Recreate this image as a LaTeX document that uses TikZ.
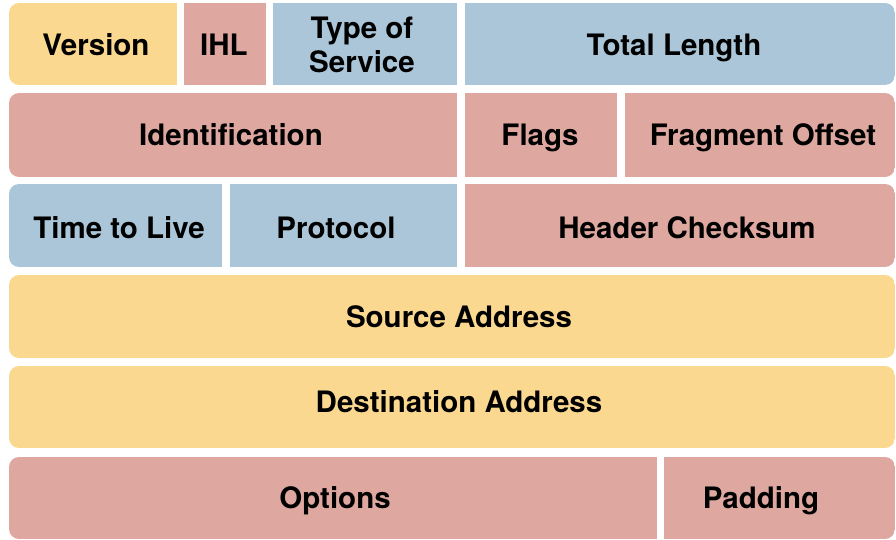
\documentclass[tikz,border=0pt]{standalone}
\usepackage{fontspec}
\setmainfont{TeX Gyre Heros}
\usetikzlibrary{positioning}
\definecolor{hdryellow}{RGB}{250,216,143}
\definecolor{hdrred}{RGB}{222,168,160}
\definecolor{hdrblue}{RGB}{170,198,216}

\tikzset{
  field/.style={font=\bfseries\fontsize{29.5}{34}\selectfont, align=center, text=black, inner sep=0pt},
  rowclip/.style={rounded corners=10pt}
}
% [#1 node options], #2 left, #3 right, #4 colour, #5 name, #6 text, #7 text x, #8 baseline y
\newcommand{\hdrcell}[8][anchor=base]{%
  \fill[#4] (#2,\rowtop) rectangle (#3,\rowbot);
  \node[field, #1] (#5) at (#7,#8) {#6};}

\begin{document}
\begin{tikzpicture}[x=1pt, y=-1pt] % {{{
  \useasboundingbox (0,0) rectangle (896,540);
  \begin{scope} % Version / IHL / TOS / Length {{{
    \def\rowtop{3} \def\rowbot{85}
    \clip[rowclip] (9,\rowtop) rectangle (895,\rowbot);
    \hdrcell{9}{177}{hdryellow}{version}{Version}{96}{55.5}
    \hdrcell{184}{266}{hdrred}{ihl}{IHL}{224}{55.5}
    \hdrcell[anchor=center]{273}{457}{hdrblue}{tos}{Type of\\Service}{362}{45}
    \hdrcell{465}{895}{hdrblue}{length}{Total Length}{674}{55.5}
  \end{scope} % }}}
  \begin{scope} % Identification / Flags / Offset {{{
    \def\rowtop{93} \def\rowbot{177}
    \clip[rowclip] (9,\rowtop) rectangle (895,\rowbot);
    \hdrcell{9}{457}{hdrred}{ident}{Identification}{231}{145.5}
    \hdrcell{465}{617}{hdrred}{flags}{Flags}{540}{145.5}
    \hdrcell{625}{895}{hdrred}{offset}{Fragment Offset}{763}{145.5}
  \end{scope} % }}}
  \begin{scope} % TTL / Protocol / Checksum {{{
    \def\rowtop{184} \def\rowbot{267}
    \clip[rowclip] (9,\rowtop) rectangle (895,\rowbot);
    \hdrcell{9}{222}{hdrblue}{ttl}{Time to Live}{119}{238.5}
    \hdrcell{230}{457}{hdrblue}{proto}{Protocol}{336}{238.5}
    \hdrcell{465}{895}{hdrred}{checksum}{Header Checksum}{687}{238.5}
  \end{scope} % }}}
  \begin{scope} % Source {{{
    \def\rowtop{275} \def\rowbot{358}
    \clip[rowclip] (9,\rowtop) rectangle (895,\rowbot);
    \hdrcell{9}{895}{hdryellow}{source}{Source Address}{459}{327.5}
  \end{scope} % }}}
  \begin{scope} % Destination {{{
    \def\rowtop{366} \def\rowbot{448}
    \clip[rowclip] (9,\rowtop) rectangle (895,\rowbot);
    \hdrcell{9}{895}{hdryellow}{dest}{Destination Address}{459}{412.5}
  \end{scope} % }}}
  \begin{scope} % Options / Padding {{{
    \def\rowtop{457} \def\rowbot{539}
    \clip[rowclip] (9,\rowtop) rectangle (895,\rowbot);
    \hdrcell{9}{657}{hdrred}{options}{Options}{335}{508.5}
    \hdrcell{664}{895}{hdrred}{padding}{Padding}{761}{508.5}
  \end{scope} % }}}
\end{tikzpicture} % }}}
\end{document}
